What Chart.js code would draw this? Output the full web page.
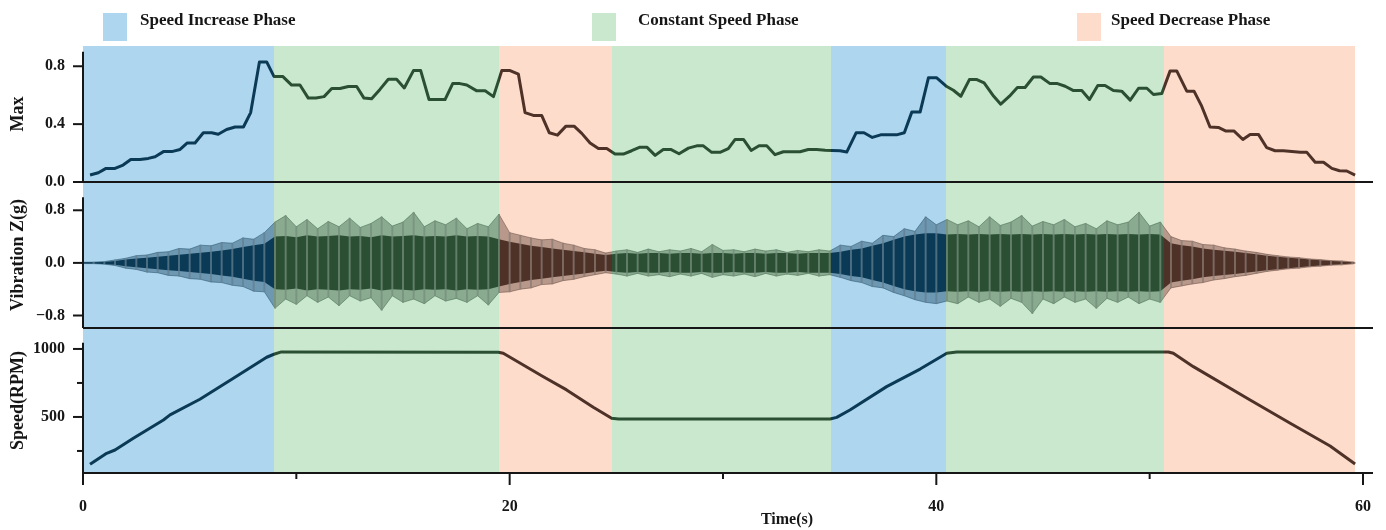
<!DOCTYPE html>
<html>
  <head>
    <script src="https://cdn.jsdelivr.net/npm/chart.js@4"></script>
    <style>
      body { margin: 0; background: #fff; }
    </style>
  </head>

  <body>
    <canvas id="canvas" width="1386" height="530"></canvas>
    <script>
      // phases (seconds)
      const phaseNames = ['Speed Increase Phase', 'Constant Speed Phase', 'Speed Decrease Phase'];
      const phaseStart = [0, 8.95, 19.5, 24.8, 35.07, 40.46, 50.68];
      const phaseEnd = [8.95, 19.5, 24.8, 35.07, 40.46, 50.68, 59.63];
      const phaseKind = [0, 1, 2, 1, 0, 1, 2];
      const shadeColors = ['#afd6ef', '#c9e8cd', '#fddccb'];
      const lineColors = ['#0b3a56', '#2a4f33', '#4e3228'];

      // tick values
      const xMajor = [0, 20, 40, 60];
      const xMinor = [10, 30, 50];
      const maxTicks = [0, 0.4, 0.8];
      const vibTicks = [-0.8, 0, 0.8];
      const speedTicks = [500, 1000];
      const speedMinor = [250, 750];

      // Max amplitude
      const maxTime = [0.33,0.72,1.08,1.5,1.88,2.24,2.67,3.06,3.38,3.77,4.16,4.55,4.89,5.25,5.64,6.03,6.34,6.73,7.13,7.52,
        7.86,8.27,8.61,8.95,9.36,9.78,10.17,10.56,10.92,11.3,11.66,12.05,12.44,12.83,13.17,13.53,13.92,14.31,14.7,15.06,
        15.49,15.83,16.22,16.6,16.97,17.33,17.67,17.99,18.46,18.85,19.24,19.63,20.02,20.41,20.72,21.11,21.5,21.86,22.24,22.64,
        23.02,23.38,23.77,24.16,24.55,24.94,25.33,25.72,26.11,26.43,26.82,27.2,27.55,27.94,28.38,28.77,29.08,29.47,29.86,30.25,
        30.57,30.96,31.32,31.69,32.05,32.44,32.83,33.22,33.61,34.0,34.39,34.79,35.1,35.49,35.8,36.24,36.61,37.0,37.39,37.8,
        38.14,38.5,38.85,39.24,39.63,40.02,40.49,40.8,41.15,41.55,41.9,42.24,42.65,43.02,43.43,43.8,44.16,44.55,44.9,45.33,
        45.68,46.04,46.43,46.82,47.18,47.57,47.91,48.3,48.69,49.09,49.48,49.87,50.18,50.57,50.96,51.27,51.74,52.08,52.44,52.83,
        53.22,53.58,53.96,54.37,54.71,55.1,55.49,55.88,56.27,56.67,57.06,57.37,57.76,58.15,58.54,58.9,59.24,59.63];
      const maxValue = [0.048,0.064,0.094,0.094,0.117,0.156,0.156,0.163,0.175,0.21,0.21,0.225,0.27,0.27,0.34,0.34,0.33,0.363,0.38,0.38,
        0.48,0.83,0.83,0.73,0.73,0.67,0.67,0.58,0.58,0.59,0.646,0.646,0.66,0.66,0.58,0.575,0.64,0.71,0.71,0.65,
        0.77,0.77,0.57,0.57,0.57,0.68,0.68,0.67,0.63,0.63,0.59,0.77,0.77,0.745,0.48,0.46,0.46,0.34,0.324,0.386,
        0.386,0.336,0.27,0.232,0.232,0.193,0.193,0.216,0.241,0.241,0.184,0.225,0.225,0.195,0.234,0.25,0.25,0.205,0.205,0.23,
        0.294,0.294,0.218,0.25,0.25,0.189,0.209,0.209,0.209,0.225,0.225,0.22,0.218,0.216,0.207,0.34,0.34,0.308,0.326,0.326,
        0.326,0.34,0.483,0.483,0.72,0.72,0.66,0.634,0.593,0.708,0.708,0.685,0.6,0.538,0.593,0.653,0.653,0.726,0.726,0.68,
        0.68,0.662,0.632,0.632,0.57,0.667,0.667,0.632,0.628,0.566,0.648,0.648,0.605,0.611,0.768,0.768,0.628,0.628,0.524,0.38,
        0.377,0.352,0.352,0.294,0.329,0.329,0.237,0.216,0.216,0.211,0.205,0.205,0.136,0.136,0.094,0.078,0.076,0.048];

      // vibration envelope (outer peaks and dense core)
      const vibTime = [0,0.5,1,1.5,2,2.5,3,3.5,4,4.5,5,5.5,6,6.5,7,7.5,8,8.5,9,9.5,
        10,10.5,11,11.5,12,12.5,13,13.5,14,14.5,15,15.5,16,16.5,17,17.5,18,18.5,19,19.5,
        20,20.5,21,21.5,22,22.5,23,23.5,24,24.5,25,25.5,26,26.5,27,27.5,28,28.5,29,29.5,
        30,30.5,31,31.5,32,32.5,33,33.5,34,34.5,35,35.5,36,36.5,37,37.5,38,38.5,39,39.5,
        40,40.5,41,41.5,42,42.5,43,43.5,44,44.5,45,45.5,46,46.5,47,47.5,48,48.5,49,49.5,
        50,50.5,51,51.5,52,52.5,53,53.5,54,54.5,55,55.5,56,56.5,57,57.5,58,58.5,59,59.5,59.6];
      const vibUp = [0.01,0.012,0.02,0.045,0.07,0.11,0.12,0.16,0.17,0.22,
        0.21,0.27,0.26,0.31,0.30,0.38,0.36,0.46,0.62,0.72,
        0.55,0.66,0.52,0.63,0.55,0.68,0.54,0.60,0.70,0.56,
        0.62,0.77,0.55,0.64,0.58,0.68,0.52,0.60,0.55,0.74,
        0.46,0.42,0.38,0.35,0.36,0.30,0.27,0.22,0.20,0.15,
        0.18,0.20,0.16,0.21,0.17,0.20,0.18,0.22,0.17,0.28,
        0.19,0.20,0.17,0.21,0.18,0.20,0.16,0.19,0.17,0.20,
        0.18,0.27,0.25,0.33,0.30,0.42,0.40,0.52,0.48,0.70,
        0.58,0.66,0.58,0.64,0.55,0.70,0.57,0.62,0.72,0.56,
        0.63,0.58,0.66,0.55,0.60,0.52,0.64,0.58,0.62,0.77,
        0.56,0.62,0.40,0.34,0.33,0.28,0.27,0.23,0.21,0.18,
        0.16,0.13,0.11,0.09,0.08,0.06,0.05,0.035,0.03,0.015,0.01];
      const vibLow = [-0.01,-0.012,-0.02,-0.04,-0.08,-0.10,-0.14,-0.15,-0.19,-0.20,
        -0.24,-0.25,-0.29,-0.30,-0.34,-0.36,-0.43,-0.44,-0.69,-0.55,
        -0.63,-0.50,-0.60,-0.52,-0.65,-0.50,-0.58,-0.53,-0.72,-0.50,
        -0.60,-0.55,-0.62,-0.50,-0.58,-0.54,-0.60,-0.50,-0.64,-0.45,
        -0.44,-0.40,-0.38,-0.33,-0.32,-0.27,-0.25,-0.21,-0.18,-0.15,
        -0.17,-0.20,-0.16,-0.20,-0.18,-0.21,-0.17,-0.20,-0.16,-0.22,
        -0.18,-0.20,-0.17,-0.21,-0.16,-0.20,-0.17,-0.19,-0.16,-0.20,
        -0.18,-0.22,-0.27,-0.30,-0.36,-0.38,-0.45,-0.50,-0.56,-0.60,
        -0.62,-0.58,-0.62,-0.52,-0.60,-0.55,-0.66,-0.54,-0.60,-0.77,
        -0.55,-0.62,-0.52,-0.60,-0.55,-0.69,-0.54,-0.60,-0.52,-0.62,
        -0.55,-0.60,-0.38,-0.35,-0.32,-0.30,-0.26,-0.24,-0.21,-0.19,
        -0.16,-0.13,-0.11,-0.09,-0.08,-0.06,-0.05,-0.035,-0.03,-0.015,-0.01];
      const vibCore = [0.008,0.01,0.015,0.03,0.05,0.065,0.08,0.095,0.11,0.125,
        0.14,0.155,0.17,0.19,0.21,0.24,0.27,0.29,0.40,0.41,
        0.39,0.42,0.40,0.41,0.42,0.40,0.41,0.39,0.42,0.40,
        0.41,0.42,0.40,0.41,0.40,0.42,0.40,0.41,0.40,0.36,
        0.32,0.29,0.26,0.24,0.22,0.20,0.18,0.16,0.14,0.12,
        0.14,0.15,0.14,0.15,0.15,0.14,0.15,0.15,0.14,0.15,
        0.15,0.14,0.15,0.15,0.14,0.15,0.15,0.14,0.15,0.15,
        0.15,0.17,0.20,0.22,0.26,0.30,0.35,0.40,0.43,0.45,
        0.45,0.43,0.44,0.43,0.44,0.43,0.44,0.43,0.44,0.43,
        0.44,0.43,0.44,0.43,0.44,0.43,0.44,0.43,0.44,0.43,
        0.44,0.43,0.30,0.27,0.25,0.22,0.20,0.185,0.17,0.15,
        0.13,0.11,0.095,0.08,0.065,0.05,0.04,0.03,0.02,0.01,0.008];

      // rotational speed
      const speedTime = [0.33,1.11,1.5,2.36,3.77,4.08,5.48,7.05,8.61,8.95,9.3,19.47,19.7,21.58,22.67,23.92,24.78,25.1,
        35.02,35.33,35.95,37.67,39.24,40.49,40.96,50.88,51.11,52.05,54.71,56.59,58.46,58.93,59.63];
      const speedValue = [152,233,257,343,478,515,630,784,939,961,978,976,968,796,699,571,490,485,
        485,497,551,723,852,968,978,978,968,870,625,454,287,233,154];

      const FONT = "'Liberation Serif', 'Times New Roman', serif";
      const INK = '#161616';

      // hex -> rgba, optionally mixed toward white
      function tone(hex, a, mix = 0) {
        const n = parseInt(hex.slice(1), 16);
        const ch = (v) => Math.round(v + (255 - v) * mix);
        return 'rgba(' + ch(n >> 16) + ',' + ch((n >> 8) & 255) + ',' + ch(n & 255) + ',' + a + ')';
      }

      // hard colour switch at each phase boundary
      function phaseGradient(chart, alpha, mix = 0) {
        const area = chart.chartArea;
        const xs = chart.scales.x;
        if (!area || !xs) return lineColors[0];
        const w = area.right - area.left;
        const g = chart.ctx.createLinearGradient(area.left, 0, area.right, 0);
        const pos = (t) => Math.min(1, Math.max(0, (xs.getPixelForValue(t) - area.left) / w));
        phaseStart.forEach((s, i) => {
          const c = tone(lineColors[phaseKind[i]], alpha, mix);
          g.addColorStop(pos(s), c);
          g.addColorStop(pos(phaseEnd[i]), c);
        });
        return g;
      }

      const zip = (xs, ys, f = (v) => v) => xs.map((x, i) => ({ x: x, y: f(ys[i]) }));

      const frame = {
        id: 'frame',
        beforeDatasetsDraw(chart) {
          const { ctx, chartArea: a, scales } = chart;
          ctx.save();
          phaseStart.forEach((s, i) => {
            const x0 = Math.round(scales.x.getPixelForValue(s));
            const x1 = Math.round(scales.x.getPixelForValue(phaseEnd[i]));
            ctx.fillStyle = shadeColors[phaseKind[i]];
            ctx.fillRect(x0, a.top, x1 - x0, a.bottom - a.top);
          });
          ctx.restore();
        },
        afterDatasetsDraw(chart) {
          const { ctx, chartArea: a, scales } = chart;
          const left = a.left;
          ctx.save();
          ctx.strokeStyle = INK;
          ctx.lineWidth = 2;
          const seg = (x0, y0, x1, y1) => {
            ctx.beginPath();
            ctx.moveTo(x0, y0);
            ctx.lineTo(x1, y1);
            ctx.stroke();
          };
          const panels = [
            [scales.yMax, 0.9, maxTicks, []],
            [scales.yVib, 1.0, vibTicks, []],
            [scales.ySpeed, 1045, speedTicks, speedMinor],
          ];
          panels.forEach(([s, top, major, minor]) => {
            seg(left, s.bottom, a.right, s.bottom);
            seg(left, s.getPixelForValue(top), left, s.bottom);
            major.forEach((v) => seg(left - 10, s.getPixelForValue(v), left, s.getPixelForValue(v)));
            minor.forEach((v) => seg(left - 6, s.getPixelForValue(v), left, s.getPixelForValue(v)));
          });
          const xb = scales.ySpeed.bottom;
          xMajor.forEach((v) => seg(scales.x.getPixelForValue(v), xb, scales.x.getPixelForValue(v), xb + 12));
          xMinor.forEach((v) => seg(scales.x.getPixelForValue(v), xb, scales.x.getPixelForValue(v), xb + 6));
          ctx.restore();
        },
        afterDraw(chart) {
          const ctx = chart.ctx;
          ctx.save();
          ctx.fillStyle = INK;
          ctx.font = 'bold 16px ' + FONT;
          ctx.textAlign = 'center';
          ctx.textBaseline = 'middle';
          ctx.fillText('Time(s)', 787, 520);
          // legend
          const boxX = [103, 592, 1077];
          const textX = [140, 638, 1111];
          ctx.font = 'bold 17px ' + FONT;
          ctx.textAlign = 'left';
          phaseNames.forEach((name, i) => {
            ctx.fillStyle = shadeColors[i];
            ctx.fillRect(boxX[i], 13, 24, 28);
            ctx.fillStyle = INK;
            ctx.fillText(name, textX[i], 21);
          });
          ctx.restore();
        },
      };

      const tickFont = { family: FONT, size: 16, weight: 'bold' };
      const titleFont = { family: FONT, size: 18, weight: 'bold' };
      const fixedTicks = (vals) => (scale) => {
        scale.ticks = vals.map((v) => ({ value: v }));
      };
      const yScale = (weight, stackWeight, min, max, ticks, title, fmt) => ({
        type: 'linear',
        position: 'left',
        stack: 'panels',
        stackWeight: stackWeight,
        weight: weight,
        min: min,
        max: max,
        grid: { display: false, drawTicks: false },
        border: { display: false },
        afterBuildTicks: fixedTicks(ticks),
        afterFit: (scale) => {
          scale.width = 83;
        },
        ticks: { font: tickFont, color: INK, padding: 18, autoSkip: false, callback: fmt },
        title: { display: true, text: title, font: titleFont, color: INK, padding: { top: 8, bottom: 0 } },
      });

      new Chart(document.getElementById('canvas').getContext('2d'), {
        type: 'line',
        data: {
          datasets: [
            {
              // thin peak-to-peak strokes of the vibration trace
              type: 'bar',
              data: vibTime.map((t, i) => ({ x: t, y: [vibLow[i], vibUp[i]] })),
              yAxisID: 'yVib',
              barThickness: 1.3,
              borderWidth: 0,
              backgroundColor: (c) => phaseGradient(c.chart, 0.75, 0.35),
            },
            {
              data: zip(vibTime, vibCore),
              yAxisID: 'yVib',
              fill: '+1',
              borderWidth: 0,
              pointRadius: 0,
              backgroundColor: (c) => phaseGradient(c.chart, 1),
            },
            {
              data: zip(vibTime, vibCore, (v) => -v),
              yAxisID: 'yVib',
              fill: false,
              borderWidth: 0,
              pointRadius: 0,
            },
            {
              data: zip(vibTime, vibUp),
              yAxisID: 'yVib',
              fill: '+1',
              borderWidth: 0.8,
              pointRadius: 0,
              borderColor: (c) => phaseGradient(c.chart, 0.55),
              backgroundColor: (c) => phaseGradient(c.chart, 0.4),
            },
            {
              data: zip(vibTime, vibLow),
              yAxisID: 'yVib',
              fill: false,
              borderWidth: 0.8,
              pointRadius: 0,
              borderColor: (c) => phaseGradient(c.chart, 0.55),
            },
            {
              data: zip(maxTime, maxValue),
              yAxisID: 'yMax',
              fill: false,
              borderWidth: 3,
              pointRadius: 0,
              borderJoinStyle: 'round',
              borderColor: (c) => phaseGradient(c.chart, 1),
            },
            {
              data: zip(speedTime, speedValue),
              yAxisID: 'ySpeed',
              fill: false,
              borderWidth: 3,
              pointRadius: 0,
              borderJoinStyle: 'round',
              borderColor: (c) => phaseGradient(c.chart, 1),
            },
          ],
        },
        options: {
          responsive: false,
          animation: false,
          layout: { padding: { top: 46, right: 13, left: 0, bottom: 0 } },
          plugins: {
            legend: { display: false },
            tooltip: { enabled: false },
          },
          scales: {
            x: {
              type: 'linear',
              position: 'bottom',
              offset: false,
              min: 0,
              max: 60.47,
              grid: { display: false, drawTicks: false },
              border: { display: false },
              afterBuildTicks: fixedTicks(xMajor),
              afterFit: (scale) => {
                scale.height = 57;
                scale.paddingLeft = 0;
                scale.paddingRight = 0;
              },
              ticks: { font: tickFont, color: INK, padding: 24, autoSkip: false, maxRotation: 0 },
            },
            yMax: yScale(3, 136, 0, 0.94, maxTicks, 'Max', (v) => v.toFixed(1)),
            yVib: yScale(2, 146, -0.99, 1.23, vibTicks, 'Vibration Z(g)', (v) => (v < 0 ? '\u2212' : '') + Math.abs(v).toFixed(1)),
            ySpeed: yScale(1, 145, 88, 1154, speedTicks, 'Speed(RPM)', (v) => String(v)),
          },
        },
        plugins: [frame],
      });
    </script>
  </body>
</html>
